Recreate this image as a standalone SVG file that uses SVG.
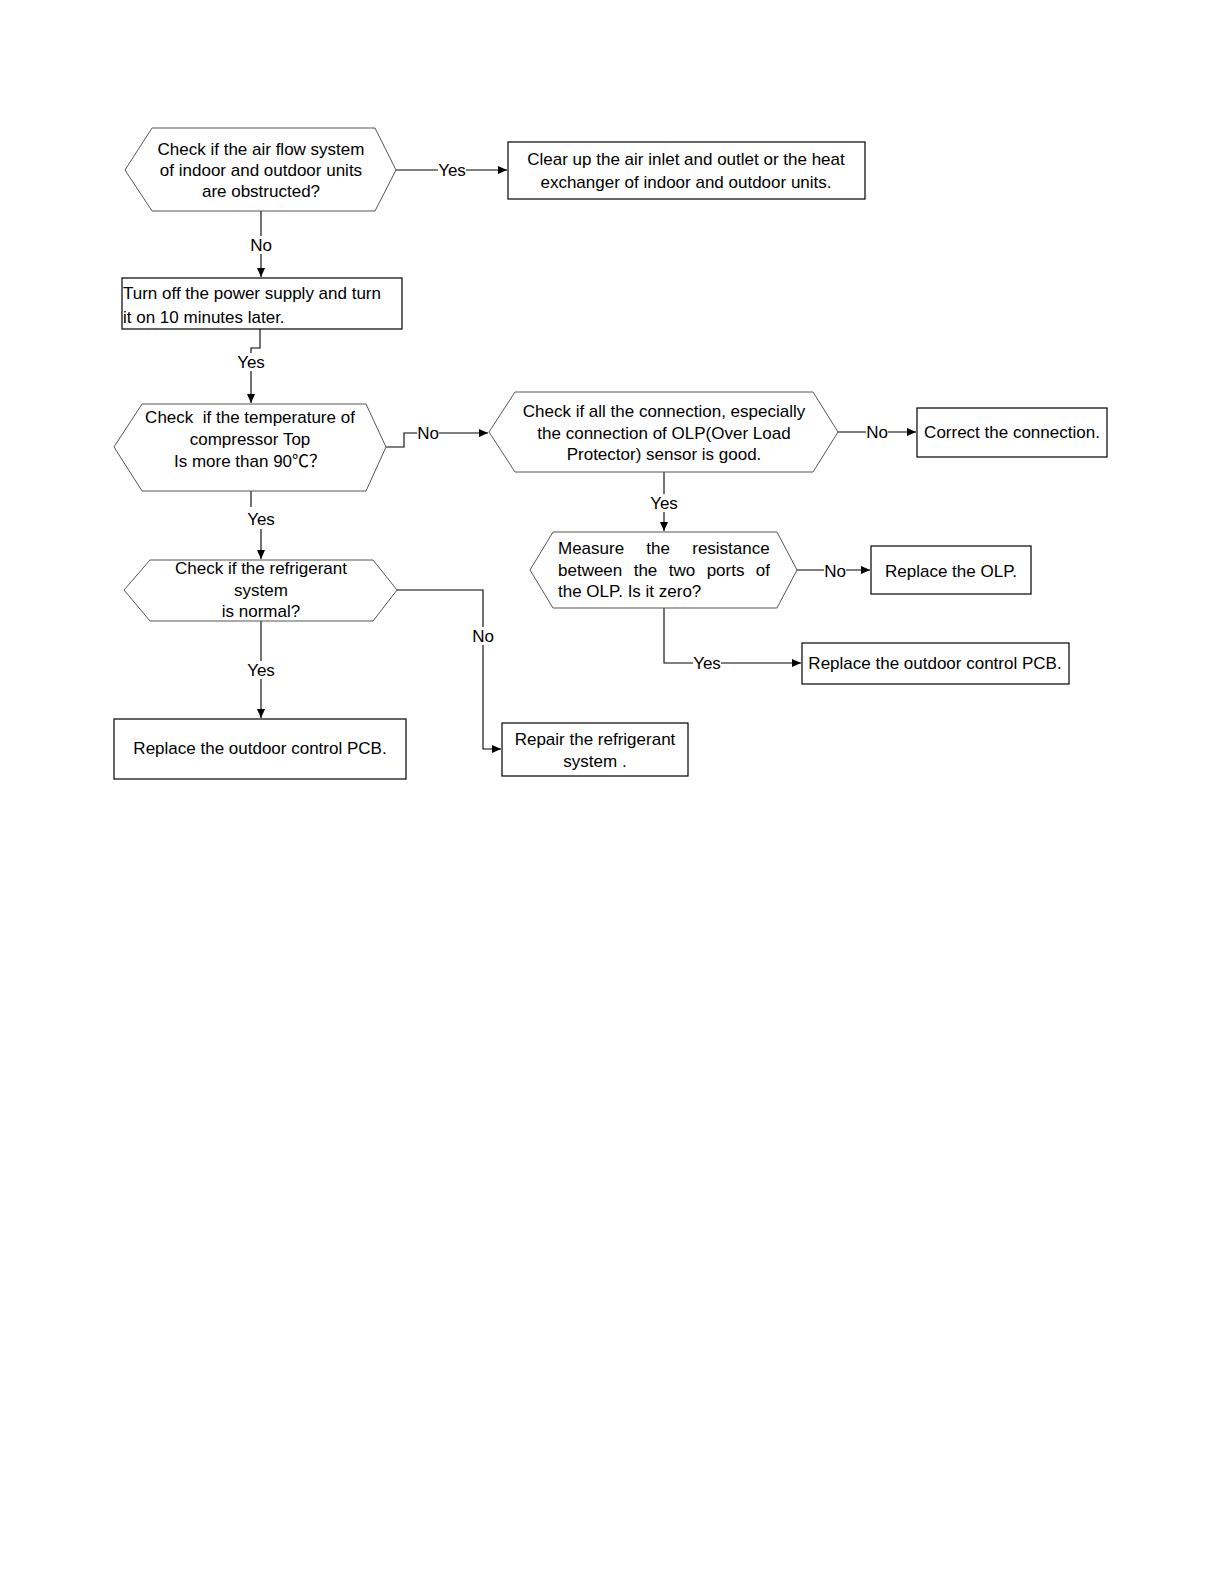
<svg xmlns="http://www.w3.org/2000/svg" width="1224" height="1584" viewBox="0 0 1224 1584">
<style>
text{font-family:"Liberation Sans","Noto Sans CJK SC",Arial,sans-serif;font-size:17px;fill:#000}
.c{text-anchor:middle}
.box{fill:#fff;stroke:#000;stroke-width:1.2}
.hex{fill:#fff;stroke:#555;stroke-width:1}
.ln{fill:none;stroke:#000;stroke-width:1.1}
.bg{fill:#fff}
</style>
<defs>
<marker id="ar" markerWidth="10" markerHeight="8" refX="9" refY="4" orient="auto" markerUnits="userSpaceOnUse">
<path d="M0,0 L9,4 L0,8 Z" fill="#000"/>
</marker>
</defs>
<rect width="1224" height="1584" fill="#fff"/>
<g id="connectors">
<path class="ln" d="M396,170 H507" marker-end="url(#ar)"/>
<path class="ln" d="M261,211 V277" marker-end="url(#ar)"/>
<path class="ln" d="M260,329 V348 H251 V403" marker-end="url(#ar)"/>
<path class="ln" d="M386,447 H404 V433 H488" marker-end="url(#ar)"/>
<path class="ln" d="M251,491 V519 H261 V559" marker-end="url(#ar)"/>
<path class="ln" d="M397,590 H483 V749 H501" marker-end="url(#ar)"/>
<path class="ln" d="M261,621 V718" marker-end="url(#ar)"/>
<path class="ln" d="M838,432 H916" marker-end="url(#ar)"/>
<path class="ln" d="M664,472 V531" marker-end="url(#ar)"/>
<path class="ln" d="M797,570 H870" marker-end="url(#ar)"/>
<path class="ln" d="M664,608 V663 H801" marker-end="url(#ar)"/>
<g id="labels">
<rect class="bg" x="438" y="161" width="28" height="18"/><text class="c" x="452" y="176">Yes</text>
<rect class="bg" x="250" y="236" width="22" height="18"/><text class="c" x="261" y="251">No</text>
<rect class="bg" x="237" y="353" width="28" height="18"/><text class="c" x="251" y="368">Yes</text>
<rect class="bg" x="417" y="424" width="22" height="18"/><text class="c" x="428" y="439">No</text>
<rect class="bg" x="245" y="507" width="32" height="22"/><text class="c" x="261" y="525">Yes</text>
<rect class="bg" x="472" y="627" width="22" height="18"/><text class="c" x="483" y="642">No</text>
<rect class="bg" x="247" y="661" width="28" height="18"/><text class="c" x="261" y="676">Yes</text>
<rect class="bg" x="866" y="423" width="22" height="18"/><text class="c" x="877" y="438">No</text>
<rect class="bg" x="650" y="494" width="28" height="18"/><text class="c" x="664" y="509">Yes</text>
<rect class="bg" x="824" y="562" width="22" height="18"/><text class="c" x="835" y="577">No</text>
<rect class="bg" x="693" y="654" width="28" height="18"/><text class="c" x="707" y="669">Yes</text>
</g>
</g>
<g id="n1">
<polygon class="hex" points="125,170 152,128 375,128 396,170 375,211 152,211"/>
<text class="c" x="261" y="155">Check if the air flow system</text>
<text class="c" x="261" y="176">of indoor and outdoor units</text>
<text class="c" x="261" y="197">are obstructed?</text>
</g>
<g id="n2">
<rect class="box" x="508" y="142" width="357" height="57"/>
<text class="c" x="686" y="165">Clear up the air inlet and outlet or the heat</text>
<text class="c" x="686" y="188">exchanger of indoor and outdoor units.</text>
</g>
<g id="n3">
<rect class="box" x="122" y="278" width="280" height="51"/>
<text x="123" y="299">Turn off the power supply and turn</text>
<text x="123" y="323">it on 10 minutes later.</text>
</g>
<g id="n4">
<polygon class="hex" points="114,447 142,404 366,404 386,447 366,491 142,491"/>
<text class="c" x="250" y="423" xml:space="preserve">Check  if the temperature of</text>
<text class="c" x="250" y="445">compressor Top</text>
<text class="c" x="250" y="467">Is more than 90℃？</text>
</g>
<g id="n5">
<polygon class="hex" points="489,432 515,392 813,392 838,432 813,472 515,472"/>
<text class="c" x="664" y="417">Check if all the connection, especially</text>
<text class="c" x="664" y="439">the connection of OLP(Over Load</text>
<text class="c" x="664" y="460">Protector) sensor is good.</text>
</g>
<g id="n6">
<rect class="box" x="917" y="408" width="190" height="49"/>
<text class="c" x="1012" y="438">Correct the connection.</text>
</g>
<g id="n7">
<polygon class="hex" points="530,570 553,532 777,532 797,570 777,608 553,608"/>
<text x="558" y="554" word-spacing="17.5">Measure the resistance</text>
<text x="558" y="576" word-spacing="6.7">between the two ports of</text>
<text x="558" y="597">the OLP. Is it zero?</text>
</g>
<g id="n8">
<rect class="box" x="871" y="546" width="160" height="48"/>
<text class="c" x="951" y="577">Replace the OLP.</text>
</g>
<g id="n9">
<rect class="box" x="802" y="643" width="267" height="41"/>
<text class="c" x="935" y="669">Replace the outdoor control PCB.</text>
</g>
<g id="n10">
<polygon class="hex" points="124,590 150,560 373,560 397,590 373,621 150,621"/>
<text class="c" x="261" y="574">Check if the refrigerant</text>
<text class="c" x="261" y="596">system</text>
<text class="c" x="261" y="617">is normal?</text>
</g>
<g id="n11">
<rect class="box" x="114" y="719" width="292" height="60"/>
<text class="c" x="260" y="754">Replace the outdoor control PCB.</text>
</g>
<g id="n12">
<rect class="box" x="502" y="723" width="186" height="53"/>
<text class="c" x="595" y="745">Repair the refrigerant</text>
<text class="c" x="595" y="767">system .</text>
</g>
</svg>
